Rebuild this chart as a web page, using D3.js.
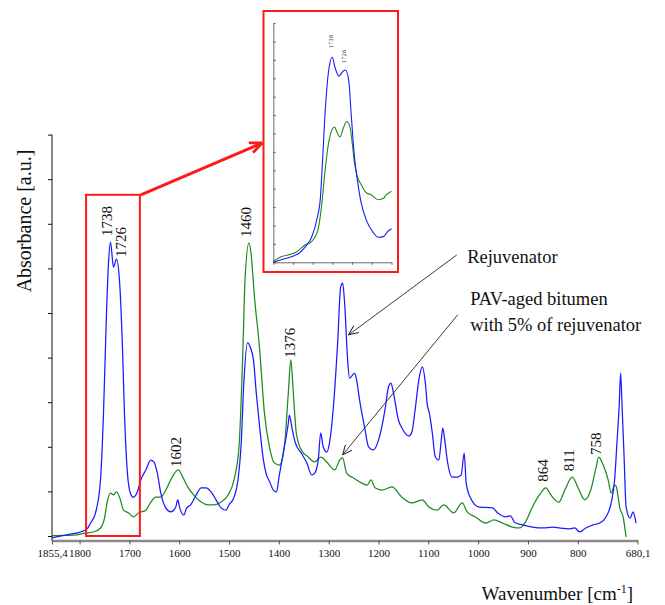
<!DOCTYPE html>
<html>
<head>
<meta charset="utf-8">
<script src="https://cdn.jsdelivr.net/npm/d3@7"></script>
<style>
  body { margin: 0; background: #ffffff; }
  svg { display: block; font-family: "Liberation Serif", "Times New Roman", serif; }
</style>
</head>
<body>
<svg id="chart" width="665" height="605"></svg>
<script>
// ---- FTIR spectra (absorbance, arbitrary units) ----
const xTickValues = [1855.4, 1800, 1700, 1600, 1500, 1400, 1300, 1200, 1100, 1000, 900, 800, 680.1];
const xTickLabels = ["1855,4", "1800", "1700", "1600", "1500", "1400", "1300", "1200", "1100", "1000", "900", "800", "680,1"];

// Rejuvenator (blue)
const rejWavenumber = [
  1855.4, 1819, 1798, 1785, 1778, 1768, 1758, 1752, 1746, 1742,
  1738, 1732, 1726, 1720, 1714, 1710, 1704, 1698, 1692, 1684,
  1677, 1667, 1657, 1651, 1644, 1637, 1627, 1617, 1607, 1603,
  1599, 1591, 1585, 1577, 1566, 1556, 1546, 1536, 1526, 1516,
  1506, 1500, 1490, 1482, 1476, 1470, 1463, 1457, 1451, 1445,
  1439, 1431, 1425, 1419, 1411, 1405, 1399, 1389, 1381, 1379,
  1373, 1367, 1355, 1344, 1334, 1328, 1321, 1316, 1311, 1304,
  1298, 1291, 1282, 1276, 1272, 1268, 1262, 1258, 1248, 1244,
  1238, 1227, 1220, 1210, 1200, 1187, 1180, 1175, 1170, 1160,
  1153, 1139, 1133, 1127, 1119, 1112, 1106, 1102, 1098, 1092,
  1086, 1079, 1074, 1071, 1067, 1062, 1052, 1042, 1034, 1028,
  1024, 1016, 998, 971, 961, 945, 935, 927, 911, 891,
  870, 850, 837, 816, 806, 796, 784, 769, 756, 743,
  733, 726, 721, 717, 714, 711, 707, 703, 695, 689,
  685, 683
];
const rejAbsorbance = [
  -0.004, 0.004, 0.009, 0.016, 0.029, 0.052, 0.126, 0.276, 0.500, 0.612,
  0.659, 0.603, 0.621, 0.574, 0.424, 0.276, 0.141, 0.096, 0.087, 0.099,
  0.126, 0.148, 0.170, 0.166, 0.141, 0.096, 0.063, 0.054, 0.065, 0.081,
  0.063, 0.047, 0.063, 0.070, 0.092, 0.108, 0.108, 0.099, 0.081, 0.063,
  0.058, 0.070, 0.087, 0.126, 0.200, 0.350, 0.433, 0.422, 0.395, 0.316,
  0.249, 0.170, 0.137, 0.123, 0.103, 0.099, 0.137, 0.200, 0.253, 0.271,
  0.238, 0.209, 0.186, 0.164, 0.137, 0.141, 0.170, 0.231, 0.200, 0.188,
  0.211, 0.283, 0.433, 0.558, 0.567, 0.522, 0.395, 0.354, 0.365, 0.350,
  0.305, 0.238, 0.200, 0.193, 0.215, 0.283, 0.334, 0.343, 0.321, 0.260,
  0.242, 0.224, 0.233, 0.278, 0.350, 0.379, 0.343, 0.294, 0.276, 0.231,
  0.177, 0.170, 0.215, 0.242, 0.215, 0.170, 0.132, 0.132, 0.137, 0.186,
  0.119, 0.087, 0.065, 0.063, 0.052, 0.043, 0.045, 0.031, 0.025, 0.020,
  0.018, 0.020, 0.018, 0.016, 0.018, 0.009, 0.018, 0.025, 0.029, 0.043,
  0.074, 0.126, 0.215, 0.289, 0.365, 0.289, 0.177, 0.065, 0.040, 0.054,
  0.040, 0.029
];

// PAV-aged bitumen with 5% of rejuvenator (green)
const pavWavenumber = [
  1855.4, 1813, 1785, 1772, 1758, 1750, 1745, 1738, 1732, 1726,
  1718, 1712, 1702, 1692, 1681, 1667, 1657, 1647, 1637, 1627,
  1617, 1602, 1593, 1583, 1571, 1556, 1543, 1530, 1516, 1502,
  1490, 1480, 1472, 1468, 1460, 1456, 1449, 1439, 1429, 1419,
  1409, 1399, 1389, 1381, 1376, 1371, 1365, 1355, 1341, 1328,
  1316, 1304, 1288, 1278, 1272, 1264, 1250, 1234, 1223, 1215,
  1207, 1193, 1173, 1153, 1133, 1112, 1099, 1082, 1069, 1049,
  1032, 1022, 1006, 985, 968, 951, 931, 917, 905, 891,
  877, 864, 854, 838, 826, 811, 800, 786, 774, 763,
  758, 749, 739, 733, 726, 723, 719, 716, 709, 703
];
const pavAbsorbance = [
  0.001, 0.002, 0.007, 0.009, 0.018, 0.040, 0.074, 0.096, 0.092, 0.099,
  0.081, 0.058, 0.052, 0.043, 0.052, 0.058, 0.076, 0.087, 0.087, 0.103,
  0.126, 0.148, 0.132, 0.110, 0.092, 0.076, 0.070, 0.070, 0.076, 0.092,
  0.126, 0.200, 0.424, 0.574, 0.657, 0.635, 0.536, 0.424, 0.276, 0.200,
  0.164, 0.159, 0.200, 0.321, 0.395, 0.321, 0.231, 0.193, 0.177, 0.166,
  0.177, 0.166, 0.148, 0.170, 0.175, 0.141, 0.130, 0.119, 0.114, 0.126,
  0.108, 0.103, 0.110, 0.087, 0.074, 0.081, 0.065, 0.058, 0.070, 0.052,
  0.074, 0.054, 0.043, 0.029, 0.036, 0.029, 0.020, 0.018, 0.031, 0.065,
  0.092, 0.108, 0.092, 0.076, 0.103, 0.132, 0.110, 0.081, 0.103, 0.155,
  0.177, 0.159, 0.126, 0.096, 0.114, 0.112, 0.087, 0.065, 0.043, -0.002
];

// Carbonyl region enlarged in the inset
const insetRejWavenumber = [
  1792, 1784, 1774, 1768, 1762, 1757, 1752, 1749, 1747, 1745,
  1743, 1741, 1738, 1736, 1732, 1728, 1726, 1723, 1721, 1718,
  1715, 1712, 1707, 1701, 1696, 1691, 1688, 1684
];
const insetRejAbsorbance = [
  0.000, 0.015, 0.033, 0.052, 0.089, 0.136, 0.238, 0.349, 0.550, 0.780,
  0.950, 1.060, 1.114, 1.067, 1.012, 1.040, 1.045, 0.985, 0.820, 0.583,
  0.440, 0.331, 0.229, 0.164, 0.136, 0.141, 0.164, 0.182
];
const insetPavWavenumber = [
  1792, 1785, 1777, 1771, 1766, 1762, 1759, 1755, 1751, 1748,
  1745, 1742, 1739, 1736, 1734, 1731, 1728, 1725, 1722, 1720,
  1718, 1715, 1712, 1707, 1702, 1699, 1696, 1691, 1689, 1686,
  1684
];
const insetPavAbsorbance = [
  0.005, 0.030, 0.042, 0.056, 0.080, 0.098, 0.104, 0.127, 0.182, 0.300,
  0.480, 0.630, 0.710, 0.735, 0.709, 0.682, 0.730, 0.765, 0.737, 0.654,
  0.545, 0.461, 0.426, 0.378, 0.365, 0.349, 0.340, 0.349, 0.366, 0.378,
  0.387
];
const insetTickValues = [1792, 1774, 1756, 1738, 1720, 1702, 1684];

// Labelled band positions [cm-1] and the spectrum each one belongs to
const peakLabels = [1738, 1726, 1602, 1460, 1376, 864, 811, 758];
const peakSeries = ["rej", "rej", "pav", "pav", "pav", "pav", "pav", "pav"];
const insetPeakLabels = [1738, 1726];

// Region shown enlarged: wavenumber span and box height
const zoomSpan = [1787, 1679];
const zoomTop = 0.765;

// ---- drawing ----
const BLUE = "#1a1aff";
const GREEN = "#1e8a1e";
const RED = "#ff1a1a";

const svg = d3.select("#chart");
const x = d3.scaleLinear().domain([1855.4, 680.1]).range([52, 637.5]);
const y = d3.scaleLinear().domain([0, 0.9]).range([536, 134.6]);

const zip = (ws, vs) => ws.map((w, i) => ({ w, v: vs[i] }));
const rej = zip(rejWavenumber, rejAbsorbance);
const pav = zip(pavWavenumber, pavAbsorbance);

const defs = svg.append("defs");
function chevron(id, color, size, width) {
  defs.append("marker")
    .attr("id", id)
    .attr("viewBox", "0 0 10 10")
    .attr("refX", 9.5).attr("refY", 5)
    .attr("markerUnits", "userSpaceOnUse")
    .attr("markerWidth", size).attr("markerHeight", size)
    .attr("orient", "auto")
    .append("path")
    .attr("d", "M0,0.8 L9.5,5 L0,9.2")
    .attr("fill", "none")
    .attr("stroke", color)
    .attr("stroke-width", width);
}
chevron("head-red", RED, 13, 2.2);
chevron("head-black", "#222", 10, 1.0);

// Y axis (unlabelled ticks)
const yAxis = d3.axisLeft(y).tickValues(d3.range(0, 0.901, 0.1)).tickSize(4).tickSizeOuter(0).tickFormat("");
const yG = svg.append("g").attr("transform", `translate(${x.range()[0]},0)`).call(yAxis);
yG.selectAll("line").attr("stroke", "#111");
yG.select(".domain").attr("stroke", "#111").attr("d", `M0,${y(0) + 5}V${y.range()[1]}`);

// X axis
const xAxis = d3.axisBottom(x).tickValues(xTickValues).tickSize(4).tickSizeOuter(0)
  .tickFormat((d, i) => xTickLabels[i]);
const xG = svg.append("g").attr("transform", `translate(0,${y(0) + 4.5})`).call(xAxis);
xG.select(".domain").attr("stroke", "#8a8a8a").attr("stroke-width", 2.4);
xG.selectAll(".tick line").attr("stroke", "#555");
xG.selectAll(".tick text")
  .attr("font-family", "Liberation Serif, serif")
  .attr("font-size", 11)
  .attr("fill", "#111")
  .attr("dy", "0.9em");

// Spectra
const line = d3.line().x(d => x(d.w)).y(d => y(d.v)).curve(d3.curveMonotoneX);
svg.append("path").datum(pav).attr("d", line)
  .attr("fill", "none").attr("stroke", GREEN).attr("stroke-width", 1.25);
svg.append("path").datum(rej).attr("d", line)
  .attr("fill", "none").attr("stroke", BLUE).attr("stroke-width", 1.25);

// Band labels, written upward above each maximum
const labelShift = { 1726: [10, 2], 1376: [4, 2], 758: [2, 2], 1602: [3, 3] };
peakLabels.forEach((w, i) => {
  const series = peakSeries[i] === "rej" ? rej : pav;
  const p = series.find(d => d.w === w);
  const [dx, dy] = labelShift[w] || [2, 6];
  svg.append("text")
    .attr("transform", `translate(${x(w) + dx},${y(p.v) - dy}) rotate(-90)`)
    .attr("font-size", 15)
    .attr("fill", "#111")
    .text(w);
});

// Box around the carbonyl region and arrow towards the inset
const frame = { x: 263.5, y: 11, w: 134.5, h: 261 };
svg.append("rect")
  .attr("x", x(zoomSpan[0])).attr("y", y(zoomTop))
  .attr("width", x(zoomSpan[1]) - x(zoomSpan[0]))
  .attr("height", y(0) - y(zoomTop))
  .attr("fill", "none").attr("stroke", RED).attr("stroke-width", 2);
svg.append("line")
  .attr("x1", x(zoomSpan[1]) + 1).attr("y1", y(zoomTop))
  .attr("x2", frame.x - 1.5).attr("y2", 143)
  .attr("stroke", RED).attr("stroke-width", 3)
  .attr("marker-end", "url(#head-red)");

// Inset
svg.append("rect")
  .attr("x", frame.x).attr("y", frame.y).attr("width", frame.w).attr("height", frame.h)
  .attr("fill", "#fff").attr("stroke", RED).attr("stroke-width", 2);

const xi = d3.scaleLinear().domain([1792, 1684]).range([273.3, 391.5]);
const yi = d3.scaleLinear().domain([0, 1.3]).range([262.3, 23.1]);

const yiG = svg.append("g").attr("transform", `translate(${xi.range()[0]},0)`)
  .call(d3.axisLeft(yi).tickValues(d3.range(0, 1.301, 0.1)).tickSize(-2.5).tickSizeOuter(0).tickFormat(""));
yiG.selectAll("line, path").attr("stroke", "#444").attr("stroke-width", 0.8);
const xiG = svg.append("g").attr("transform", `translate(0,${yi(0)})`)
  .call(d3.axisBottom(xi).tickValues(insetTickValues).tickSize(2.5).tickSizeOuter(0).tickFormat(""));
xiG.selectAll("line, path").attr("stroke", "#444").attr("stroke-width", 0.8);

const insetLine = d3.line().x(d => xi(d.w)).y(d => yi(d.v)).curve(d3.curveMonotoneX);
const insetRej = zip(insetRejWavenumber, insetRejAbsorbance);
const insetPav = zip(insetPavWavenumber, insetPavAbsorbance);
svg.append("path").datum(insetPav).attr("d", insetLine)
  .attr("fill", "none").attr("stroke", GREEN).attr("stroke-width", 1.1);
svg.append("path").datum(insetRej).attr("d", insetLine)
  .attr("fill", "none").attr("stroke", BLUE).attr("stroke-width", 1.1);

insetPeakLabels.forEach((w, i) => {
  const p = insetRej.find(d => d.w === w);
  svg.append("text")
    .attr("transform", `translate(${xi(w) + 0.5},${yi(p.v) - (i === 0 ? 9 : 7)}) rotate(-90)`)
    .attr("font-size", 6)
    .attr("letter-spacing", 0.4)
    .attr("fill", "#222")
    .text(w);
});

// Series call-outs
const callouts = [
  { lines: ["Rejuvenator"], text: [1022, 0.612], tail: [1043, 0.630], tip: [1260, 0.451] },
  { lines: ["PAV-aged bitumen", "with 5% of rejuvenator"], text: [1016, 0.518], tail: [1041, 0.496], tip: [1272, 0.182] }
];
callouts.forEach(c => {
  svg.append("line")
    .attr("x1", x(c.tail[0])).attr("y1", y(c.tail[1]))
    .attr("x2", x(c.tip[0])).attr("y2", y(c.tip[1]))
    .attr("stroke", "#222").attr("stroke-width", 0.9)
    .attr("marker-end", "url(#head-black)");
  const t = svg.append("text")
    .attr("x", x(c.text[0])).attr("y", y(c.text[1]))
    .attr("font-size", 18.5).attr("fill", "#111");
  c.lines.forEach((s, k) => {
    t.append("tspan").attr("x", x(c.text[0])).attr("dy", k === 0 ? 0 : 26).text(s);
  });
});

// Axis titles
svg.append("text")
  .attr("transform", "translate(31,221) rotate(-90)")
  .attr("text-anchor", "middle")
  .attr("font-size", 20)
  .attr("fill", "#111")
  .text("Absorbance [a.u.]");

const xt = svg.append("text")
  .attr("x", 633).attr("y", 600)
  .attr("text-anchor", "end")
  .attr("font-size", 19)
  .attr("fill", "#111");
xt.append("tspan").text("Wavenumber [cm");
xt.append("tspan").attr("font-size", 12).attr("dy", -7).text("-1");
xt.append("tspan").attr("dy", 7).text("]");
</script>
</body>
</html>
